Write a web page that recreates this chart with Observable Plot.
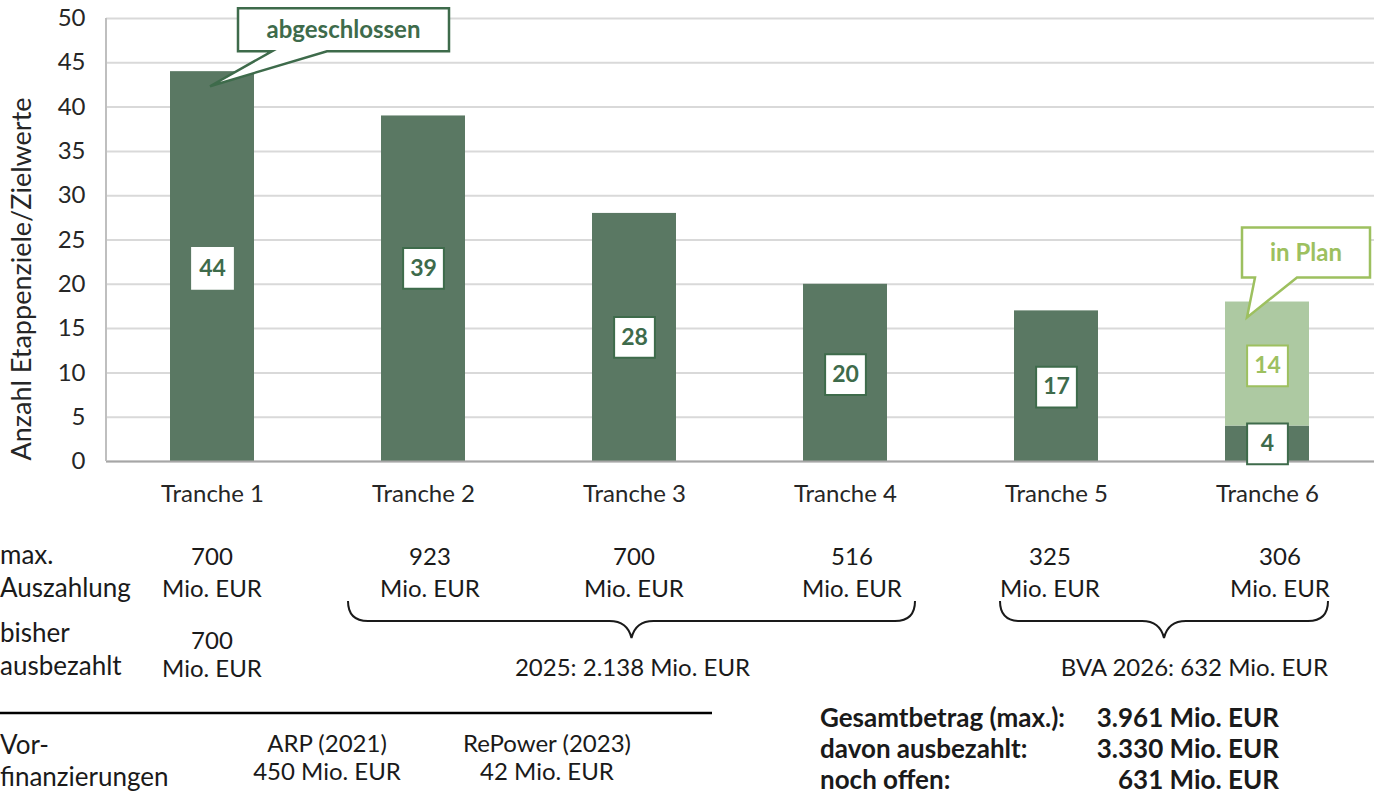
<!DOCTYPE html>
<html><head><meta charset="utf-8">
<script src="https://cdn.jsdelivr.net/npm/d3@7"></script>
<script src="https://cdn.jsdelivr.net/npm/@observablehq/plot@0.6"></script>
<style>
body{margin:0;background:#fff;font-family:Lato,sans-serif;}
#wrap{position:relative;width:1383px;height:794px;overflow:hidden;background:#fff;}
#wrap svg{position:absolute;left:0;top:0;}
</style></head><body><div id="wrap"></div>
<script>
// ---- data ----
const tranches = ["Tranche 1","Tranche 2","Tranche 3","Tranche 4","Tranche 5","Tranche 6"];
const completedTargets = [44, 39, 28, 20, 17, 4];
const plannedTargets = [0, 0, 0, 0, 0, 14];
const completedLabelAt = [21.8, 21.8, 14, 9.8, 8.4, 2];
const plannedLabelAt = [null, null, null, null, null, 10.8];
const yTicks = [0, 5, 10, 15, 20, 25, 30, 35, 40, 45, 50];
const yTitle = "Anzahl Etappenziele/Zielwerte";
const calloutNotes = [
  {tranche: "Tranche 1", text: "abgeschlossen", at: 42.3},
  {tranche: "Tranche 6", text: "in Plan", at: 16.2}
];
const maxPayout = ["700", "923", "700", "516", "325", "306"];
const paidOut = ["700", null, null, null, null, null];
const unitLabel = "Mio. EUR";
const rowLabels = [["max.", "Auszahlung"], ["bisher", "ausbezahlt"]];
const budgetGroups = [
  {from: "Tranche 2", to: "Tranche 4", text: "2025: 2.138 Mio. EUR"},
  {from: "Tranche 5", to: "Tranche 6", text: "BVA 2026: 632 Mio. EUR"}
];
const preFinancingLabel = ["Vor-", "finanzierungen"];
const preFinancing = [["ARP (2021)", "450 Mio. EUR"], ["RePower (2023)", "42 Mio. EUR"]];
const totals = [
  ["Gesamtbetrag (max.):", "3.961 Mio. EUR"],
  ["davon ausbezahlt:", "3.330 Mio. EUR"],
  ["noch offen:", "631 Mio. EUR"]
];

// ---- styles ----
const dark = "#5a7863", light = "#adc9a2", textDark = "#3e6b4b", lime = "#9dc05f";

const bars = tranches.flatMap((t, i) => [
  {tranche: t, status: "abgeschlossen", value: completedTargets[i]},
  {tranche: t, status: "in Plan", value: plannedTargets[i]}
]);
const labels = [];
tranches.forEach((t, i) => {
  labels.push({tranche: t, value: completedTargets[i], pos: completedLabelAt[i],
    stroke: i === 0 ? "white" : textDark, color: textDark});
  if (plannedTargets[i] > 0) labels.push({tranche: t, value: plannedTargets[i], pos: plannedLabelAt[i],
    stroke: lime, color: lime});
});

const chart = Plot.plot({
  width: 1383, height: 510,
  marginLeft: 106, marginRight: 9, marginTop: 18, marginBottom: 49,
  style: {fontFamily: "Lato, sans-serif", fontSize: "24px", color: "#262626", background: "white"},
  x: {domain: tranches, paddingInner: 0.6, paddingOuter: 0.3, label: null},
  y: {domain: [0, 50], label: null},
  color: {type: "identity"},
  marks: [
    Plot.gridY(yTicks, {stroke: "#d9d9d9", strokeOpacity: 1, strokeWidth: 2}),
    Plot.barY(bars, {x: "tranche", y: "value", fill: d => d.status === "in Plan" ? light : dark}),
    Plot.ruleY([0], {stroke: "#a6a6a6", strokeWidth: 2}),
    Plot.axisY(yTicks, {tickSize: 0, tickPadding: 21, fontSize: 24, label: null}),
    Plot.axisX({tickSize: 0, tickPadding: 23, fontSize: 24, label: null}),
    Plot.dot(labels, {x: "tranche", y: "pos", symbol: "square", r: 23, fill: "white", stroke: "stroke", strokeWidth: 2}),
    Plot.text(labels, {x: "tranche", y: "pos", text: d => String(d.value), fill: "color", fontWeight: "bold", fontSize: 23}),
    Plot.text([yTitle], {frameAnchor: "left", dx: -84, dy: 39, rotate: -90, textAnchor: "middle", fontSize: 27, fill: "#262626"})
  ]
});
const wrap = document.getElementById("wrap");
wrap.appendChild(chart);

const xs = chart.scale("x"), ys = chart.scale("y");
const cx = t => xs.apply(t) + xs.bandwidth / 2;
const svg = d3.select(chart);

// y axis line
svg.append("line").attr("x1", 106).attr("x2", 106).attr("y1", ys.apply(50)).attr("y2", ys.apply(0))
  .attr("stroke", "#bfbfbf").attr("stroke-width", 2);

// callouts
const calloutStyle = {
  "Tranche 1": {dx: -2, box: {l: 28, r: 239, t: -78, b: -35}, base: [62, 117], color: textDark},
  "Tranche 6": {dx: -20, box: {l: -5, r: 123, t: -90, b: -40}, base: [8, 50], color: lime}
};
calloutNotes.forEach(n => {
  const s = calloutStyle[n.tranche];
  const tx = cx(n.tranche) + s.dx, ty = ys.apply(n.at);
  const L = tx + s.box.l, R = tx + s.box.r, T = ty + s.box.t, B = ty + s.box.b;
  svg.append("path")
    .attr("d", `M${L},${T}H${R}V${B}H${tx + s.base[1]}L${tx},${ty}L${tx + s.base[0]},${B}H${L}Z`)
    .attr("fill", "white").attr("stroke", s.color).attr("stroke-width", 2.5).attr("stroke-linejoin", "miter");
  svg.append("text").attr("x", (L + R) / 2).attr("y", (T + B) / 2).attr("dy", "0.35em")
    .attr("text-anchor", "middle").attr("font-weight", "bold").attr("font-size", 24)
    .attr("fill", s.color).attr("font-family", "Lato, sans-serif").text(n.text);
});

// ---- lower table ----
const ov = d3.select(wrap).append("svg").attr("width", 1383).attr("height", 794)
  .style("pointer-events", "none").attr("font-family", "Lato, sans-serif").attr("font-size", 24).attr("fill", "#1a1a1a");
const colShift = [0, 7, 0, 7, -6, 13];
const col = i => cx(tranches[i]) + colShift[i];
function txt(x, y, s, anchor = "middle", weight = "normal", size = 24) {
  ov.append("text").attr("x", x).attr("y", y).attr("text-anchor", anchor).attr("font-weight", weight)
    .attr("font-size", size).text(s);
}
// row labels
txt(0, 564, rowLabels[0][0], "start", "normal", 26); txt(0, 597, rowLabels[0][1], "start", "normal", 26);
txt(0, 642, rowLabels[1][0], "start", "normal", 26); txt(0, 675, rowLabels[1][1], "start", "normal", 26);
maxPayout.forEach((v, i) => { txt(col(i), 565, v); txt(col(i), 597, unitLabel); });
paidOut.forEach((v, i) => { if (v) { txt(col(i), 649, v); txt(col(i), 677, unitLabel); } });

// braces
const braceExt = {"Tranche 2": -75, "Tranche 4": 70, "Tranche 5": -56, "Tranche 6": 61};
budgetGroups.forEach((g, gi) => {
  const x1 = cx(g.from) + braceExt[g.from], x2 = cx(g.to) + braceExt[g.to];
  const m = (x1 + x2) / 2, y0 = 601, y1 = 621, y2 = 638, r = 20;
  ov.append("path")
    .attr("d", `M${x1},${y0}Q${x1},${y1} ${x1 + r},${y1}H${m - 22}Q${m - 4},${y1} ${m},${y2}Q${m + 4},${y1} ${m + 22},${y1}H${x2 - r}Q${x2},${y1} ${x2},${y0}`)
    .attr("fill", "none").attr("stroke", "#1a1a1a").attr("stroke-width", 2);
  if (gi === 0) txt(m + 1, 676, g.text);
  else txt(x2, 676, g.text, "end");
});

// separator line
ov.append("line").attr("x1", 0).attr("x2", 712).attr("y1", 713).attr("y2", 713).attr("stroke", "#000").attr("stroke-width", 2.5);
txt(0, 754, preFinancingLabel[0], "start", "normal", 26); txt(0, 786, preFinancingLabel[1], "start", "normal", 26);
const preX = [327, 547];
preFinancing.forEach((p, i) => { txt(preX[i], 752, p[0]); txt(preX[i], 780, p[1]); });

// totals
totals.forEach((r, i) => {
  const y = 727 + i * 31;
  txt(820, y, r[0], "start", "bold", 26);
  txt(1279, y, r[1], "end", "bold", 26);
});
</script></body></html>
